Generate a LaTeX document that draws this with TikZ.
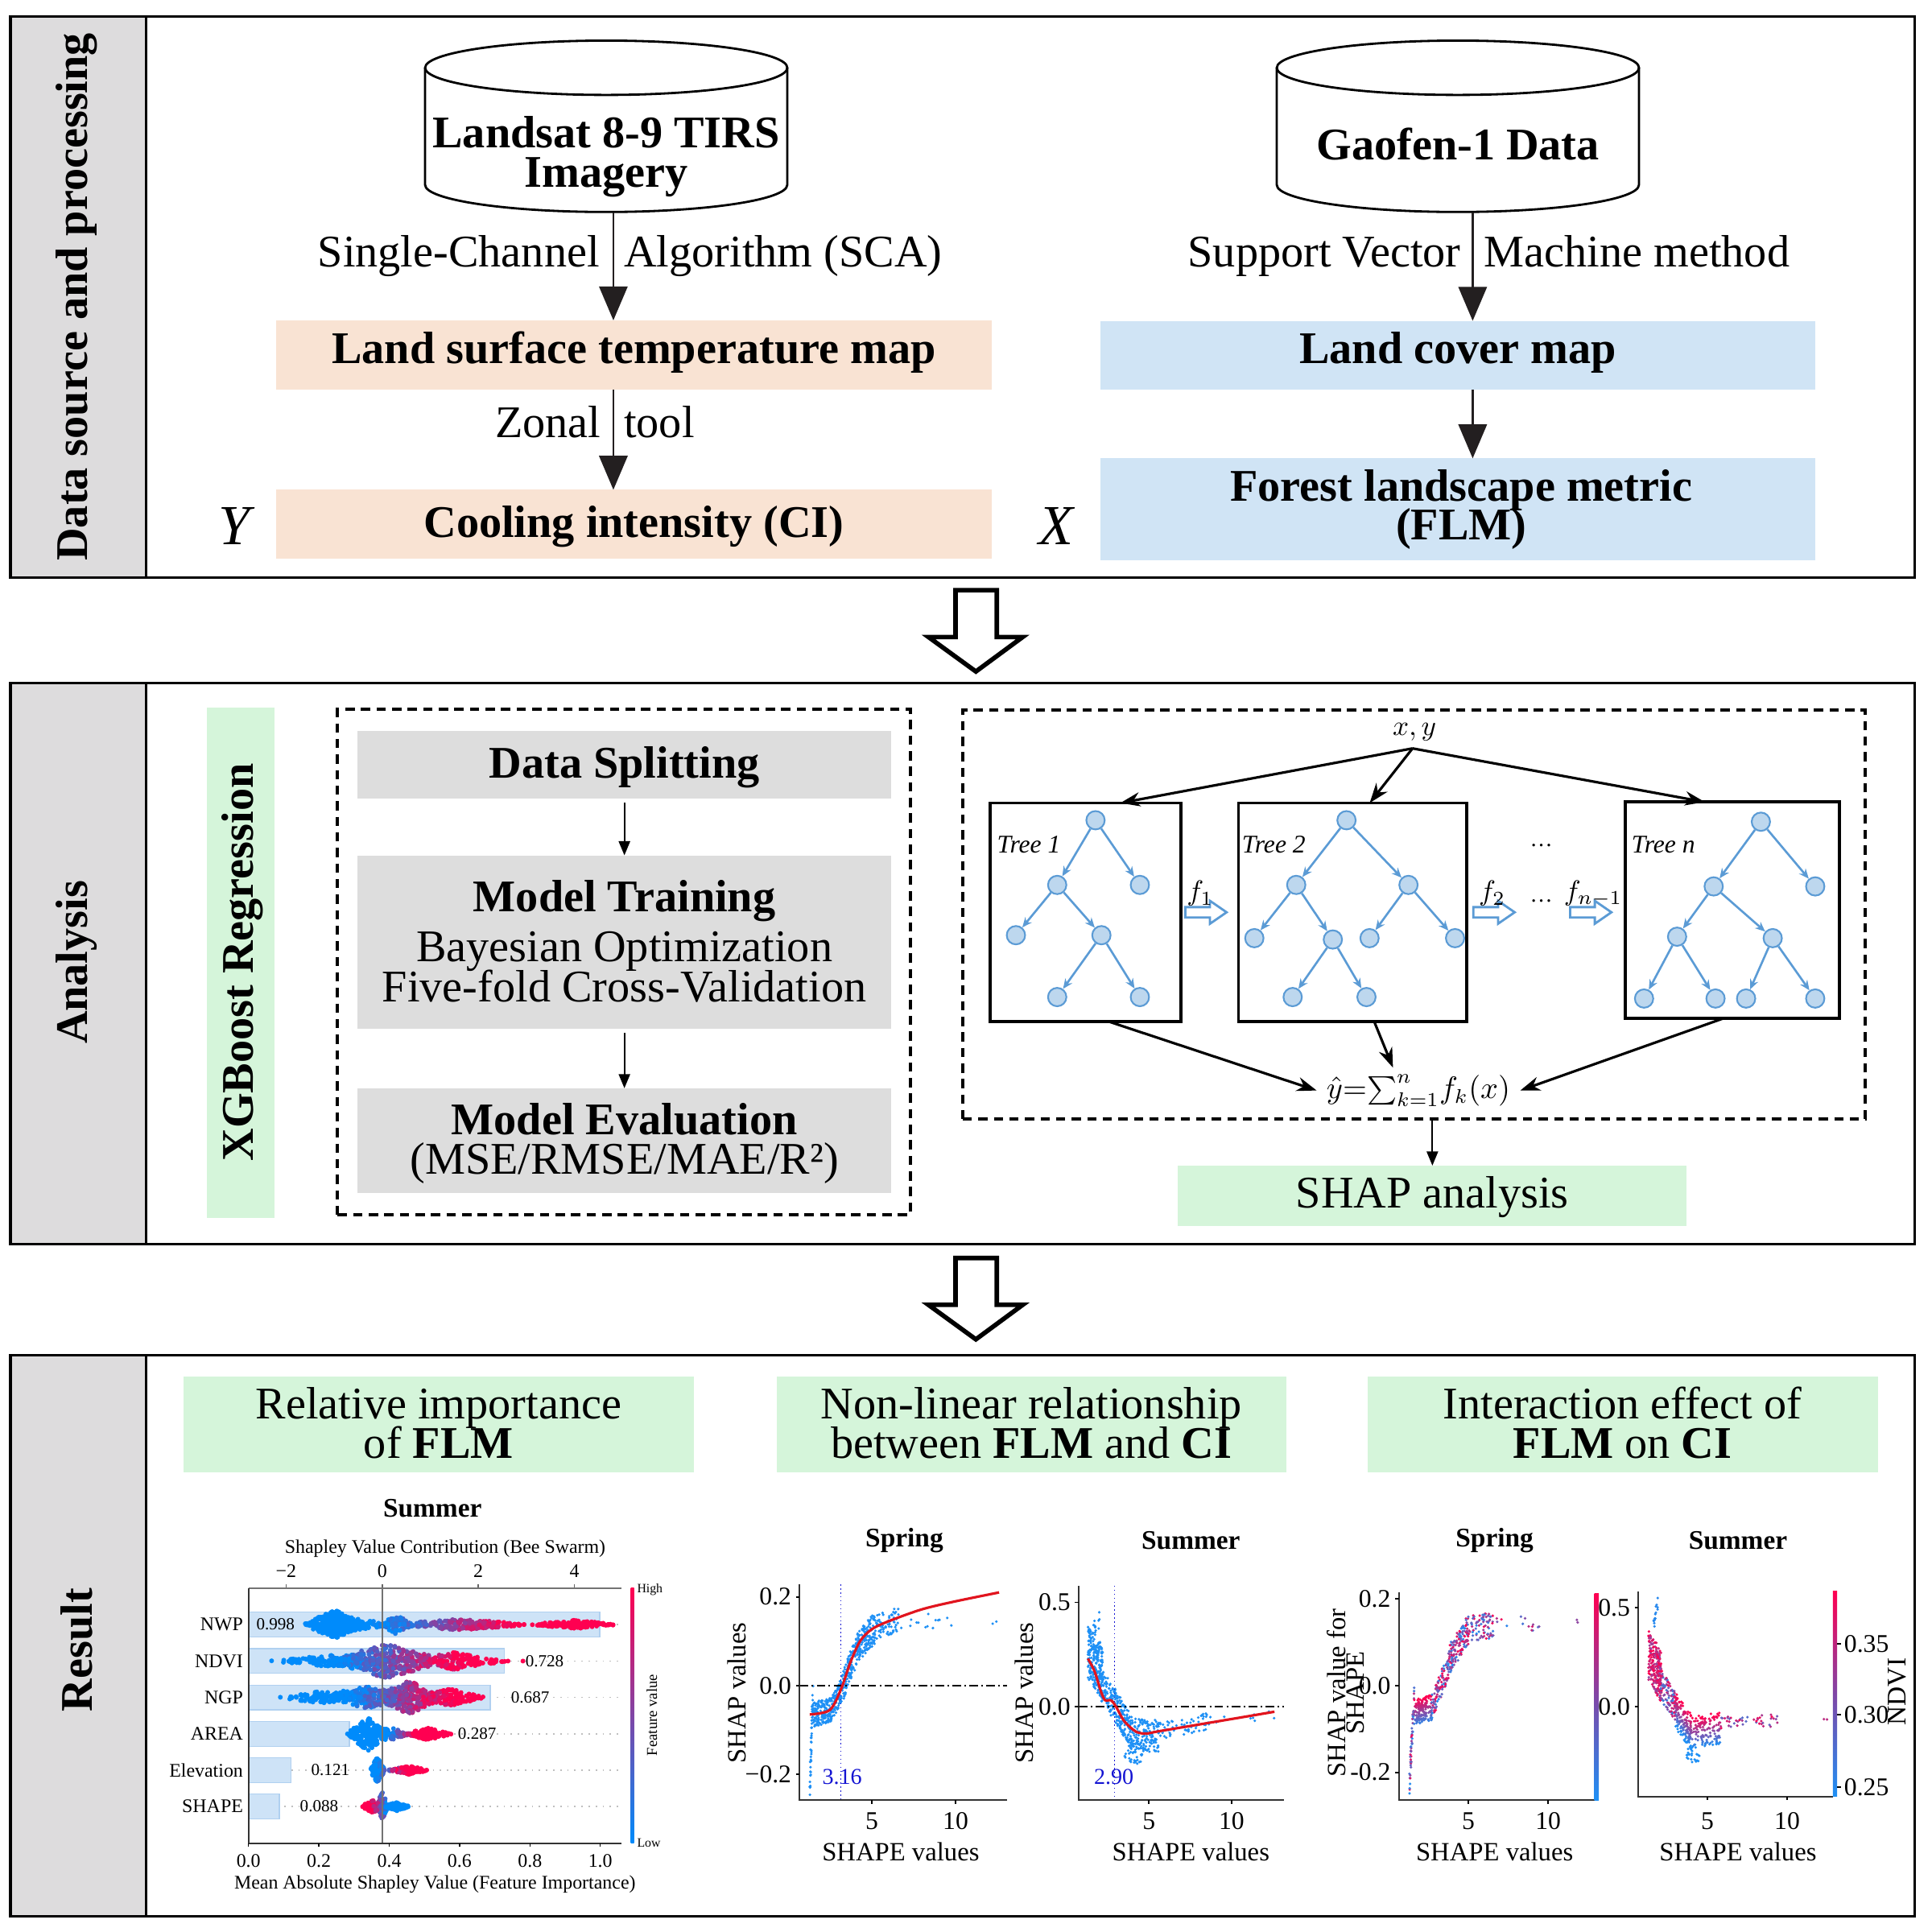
\documentclass[tikz,border=0pt]{standalone}
\usepackage{fontspec}
\setmainfont{Liberation Serif}
\usetikzlibrary{arrows.meta,fit}
\definecolor{peach}{RGB}{249,227,211}
\definecolor{lblue}{RGB}{208,228,245}
\definecolor{lgreen}{RGB}{213,245,218}
\definecolor{lgray}{RGB}{221,221,221}
\definecolor{colgray}{RGB}{221,220,221}
\definecolor{arrowblk}{RGB}{35,31,32}
\definecolor{treeblue}{RGB}{91,155,213}
\definecolor{treefill}{RGB}{189,215,238}
\definecolor{shapblue}{RGB}{0,139,251}
\definecolor{shapred}{RGB}{255,0,81}
\definecolor{shapmid}{RGB}{127,70,166}
\definecolor{dotblue}{RGB}{30,144,245}
\definecolor{barfill}{RGB}{206,227,247}
\definecolor{bardraw}{RGB}{176,208,240}
\definecolor{curvered}{RGB}{225,20,30}
\definecolor{numblue}{RGB}{20,20,210}
\newcommand\fsz[2]{\fontsize{#1}{#2}\selectfont}
% beeswarm cluster: cx, sx, half-height, n, rowY, colour expression
\newcommand\swarm[6]{%
  \foreach \k in {1,...,#4}{%
    \pgfmathsetmacro\uu{(rand+rand)/2}%
    \pgfmathsetmacro\tx{(#1)+(#2)*\uu}%
    \pgfmathsetmacro\ty{(#5)+(#3)*rand*(1-abs(\uu))}%
    \pgfmathtruncatemacro\pc{max(0,min(100,#6))}%
    \fill[shapred!\pc!shapblue] ({310.2+39*\tx},{\ty}) circle[radius=0.85pt];
  }%
}
% scatter segment: x0,y0,x1,y1,noise,n,colour expression
\newcommand\dseg[7]{%
  \foreach \k in {1,...,#6}{%
    \pgfmathsetmacro\tx{(#1)+((#3)-(#1))*rnd}%
    \pgfmathsetmacro\nz{rand}%
    \pgfmathsetmacro\ty{(#2)+((#4)-(#2))*(\tx-(#1))/((#3)-(#1))+(#5)*\nz}%
    \pgfmathtruncatemacro\pc{max(0,min(100,#7))}%
    \fill[shapred!\pc!dotblue] ({\ox+\sx*\tx},{\oy-\sy*(\ty)}) circle[radius=0.5pt];
  }%
}
\newcommand\harr[2]{%
  \draw[treeblue, line width=0.8pt, fill=white] (#1,#2-4.2) -- (#1+20,#2-4.2) -- (#1+20,#2-9.3) -- (#1+33.5,#2) -- (#1+20,#2+9.3) -- (#1+20,#2+4.2) -- (#1,#2+4.2) -- cycle;}
\newcommand\downarr[1]{%
  \draw[line width=1.6pt, fill=white, line join=miter] (775.5,#1) -- (809,#1) -- (809,#1+38) -- (830,#1+38) -- (792,#1+66) -- (753.5,#1+38) -- (775.5,#1+38) -- cycle;}
\begin{document}
\begin{tikzpicture}[x=0.0153061cm, y=-0.0153061cm,
  panel/.style={draw=black, line width=0.9pt},
  fb/.style={inner sep=0pt, outer sep=0pt},
  bigb/.style={font=\fsz{16}{18}\bfseries},
  bigr/.style={font=\fsz{16}{18}},
  flowarr/.style={draw=arrowblk, line width=0.8pt, -{Triangle[length=12pt,width=10pt]}},
  thinarr/.style={draw=black, line width=0.6pt, -{Triangle[length=5pt,width=4pt]}},
  blkarr/.style={draw=black, line width=0.9pt, -{Stealth[length=7pt,width=5pt]}},
  tnd/.style={circle, draw=treeblue, fill=treefill, line width=0.6pt, minimum size=6.5pt, inner sep=0pt},
  tedge/.style={draw=treeblue, line width=0.75pt, -{Stealth[length=3.5pt,width=3pt]}},
  dashbox/.style={draw=black, line width=1.1pt, dash pattern=on 3.3pt off 2.2pt},
  treebox/.style={draw=black, line width=1.1pt},
  ticklab/.style={font=\fsz{9}{10}},
  axlab/.style={font=\fsz{9.3}{10}},
  ptitle/.style={font=\fsz{9.5}{10}\bfseries},
  bs/.style={font=\fsz{6.8}{8}},
  axline/.style={line width=0.6pt, draw=black!80},
]
\useasboundingbox (0,0) rectangle (1568,1568);
\pgfmathsetseed{4}

%================ PANEL 1 =================
\fill[colgray] (8.5,13.5) rectangle (118.5,469);
\node[fit={(8.5,13.5) (1554,469)}, fb, panel] (p1) {};
\draw[panel] (118.5,13.5) -- (118.5,469);
\node[bigb, rotate=90] (l1) at (62,241) {Data source and processing};

% cylinders
\draw[line width=0.8pt, fill=white] (345,55) -- (345,150) arc[start angle=180, end angle=360, x radius=64pt, y radius=9.6pt] -- (639,55);
\draw[line width=0.8pt] (492,55) ellipse[x radius=64pt, y radius=9.6pt];
\node[bigb, anchor=base] (cy1a) at (492,120) {Landsat 8-9 TIRS};
\node[bigb, anchor=base] (cy1b) at (492,152) {Imagery};
\coordinate (c1) at (497.8,172.5);
\draw[line width=0.8pt, fill=white] (1036.2,55) -- (1036.2,150) arc[start angle=180, end angle=360, x radius=64pt, y radius=9.6pt] -- (1330.2,55);
\draw[line width=0.8pt] (1183.2,55) ellipse[x radius=64pt, y radius=9.6pt];
\node[bigb, anchor=base] (cy2a) at (1183.2,130) {Gaofen-1 Data};
\coordinate (c2) at (1195.2,172.5);

% boxes
\node[fit={(224,260) (804.7,316)}, fb, fill=peach] (lst) {};
\node[bigb, anchor=base] (lstt) at (514.4,295) {Land surface temperature map};
\node[fit={(224,397.5) (804.7,453.5)}, fb, fill=peach] (ci) {};
\node[bigb, anchor=base] (cit) at (514.4,436) {Cooling intensity (CI)};
\node[fit={(893.3,260.4) (1473.1,316.5)}, fb, fill=lblue] (lcm) {};
\node[bigb, anchor=base] (lcmt) at (1183.2,295) {Land cover map};
\node[fit={(893.3,372) (1473.1,454.5)}, fb, fill=lblue] (flm) {};
\node[bigb, anchor=base] (flma) at (1186,406.5) {Forest landscape metric};
\node[bigb, anchor=base] (flmb) at (1186,438) {(FLM)};
\node[font=\fsz{20}{22}\itshape, anchor=base] (yy) at (190,442) {Y};
\node[font=\fsz{20}{22}\itshape, anchor=base] (xx) at (857.4,442) {X};

% arrows
\draw[flowarr] (c1) -- (c1 |- lst.north);
\draw[flowarr] (c1 |- lst.south) -- (c1 |- ci.north);
\draw[flowarr] (c2) -- (c2 |- lcm.north);
\draw[flowarr] (c2 |- lcm.south) -- (c2 |- flm.north);
\node[bigr, anchor=base east, inner sep=0pt] (sca1) at (487,216.5) {Single-Channel};
\node[bigr, anchor=base west, inner sep=0pt] (sca2) at (506,216.5) {Algorithm (SCA)};
\node[bigr, anchor=base east, inner sep=0pt] (zt1) at (488,355) {Zonal};
\node[bigr, anchor=base west, inner sep=0pt] (zt2) at (506,355) {tool};
\node[bigr, anchor=base east, inner sep=0pt] (svm1) at (1186,216.5) {Support Vector};
\node[bigr, anchor=base west, inner sep=0pt] (svm2) at (1204,216.5) {Machine method};

\downarr{479}

%================ PANEL 2 =================
\fill[colgray] (8.5,554.5) rectangle (118.5,1009.7);
\node[fit={(8.5,554.5) (1554,1009.7)}, fb, panel] (p2) {};
\draw[panel] (118.5,554.5) -- (118.5,1009.7);
\node[bigb, rotate=90] (l2) at (62,781) {Analysis};

\node[fit={(168,574.3) (222.5,988.2)}, fb, fill=lgreen] (xgb) {};
\node[bigb, rotate=90] (xgbt) at (197,781) {XGBoost Regression};

\node[fit={(274,575.7) (739,985.8)}, fb, dashbox] (dl) {};
\node[fit={(290,593.2) (723.5,648.2)}, fb, fill=lgray] (ds) {};
\node[bigb, anchor=base] (dst) at (506.7,631.7) {Data Splitting};
\node[fit={(290,694.2) (723.5,834.7)}, fb, fill=lgray] (mt) {};
\node[bigb, anchor=base] (mta) at (506.7,739.7) {Model Training};
\node[bigr, anchor=base] (mtb) at (506.7,780.7) {Bayesian Optimization};
\node[bigr, anchor=base] (mtc) at (506.7,813.2) {Five-fold Cross-Validation};
\node[fit={(290,883.2) (723.5,968.3)}, fb, fill=lgray] (me) {};
\node[bigb, anchor=base] (mea) at (506.7,920.8) {Model Evaluation};
\node[bigr, anchor=base] (meb) at (506.7,953.2) {(MSE/RMSE/MAE/R²)};
\draw[thinarr] ([yshift=-1.5]ds.south) -- (mt.north);
\draw[thinarr] ([yshift=-1.5]mt.south) -- (me.north);

\node[fit={(781.3,576.3) (1513.9,908.4)}, fb, dashbox] (ens) {};
\node[font=\fsz{10}{12}] (xy) at (1148,594) {$x,y$};
\coordinate (xys) at (1146.4,607.4);
\node[fit={(803.8,651.7) (958.6,829)}, fb, treebox] (t1) {};
\node[fit={(1005.1,651.7) (1190.5,829)}, fb, treebox] (t2) {};
\node[fit={(1318.9,650.9) (1492.9,826.7)}, fb, treebox] (tn) {};
\node[font=\fsz{9}{10}\itshape] (t1l) at (835,685.5) {Tree 1};
\node[font=\fsz{9}{10}\itshape] (t2l) at (1033.8,685.5) {Tree 2};
\node[font=\fsz{9}{10}\itshape] (tnl) at (1350,685.5) {Tree n};
\draw[blkarr] (xys) -- ([xshift=12.2pt]t1.north);
\draw[blkarr] (xys) -- ([xshift=6pt]t2.north);
\draw[blkarr] (xys) -- ([xshift=-9.7pt]tn.north);

% tree 1
\node[tnd] (a0) at (889.1,665.7) {};
\node[tnd] (a1) at (858,718.2) {};
\node[tnd] (a2) at (925.1,718.2) {};
\node[tnd] (a3) at (824.5,759) {};
\node[tnd] (a4) at (893.9,759) {};
\node[tnd] (a5) at (858,809.2) {};
\node[tnd] (a6) at (925.1,809.2) {};
\foreach \p/\c in {a0/a1,a0/a2,a1/a3,a1/a4,a4/a5,a4/a6} \draw[tedge] (\p) -- (\c);
% tree 2
\node[tnd] (b0) at (1092.8,665.7) {};
\node[tnd] (b1) at (1052,718.2) {};
\node[tnd] (b2) at (1143.1,718.2) {};
\node[tnd] (b3) at (1018,761.4) {};
\node[tnd] (b4) at (1081.7,762.5) {};
\node[tnd] (b5) at (1111.5,761.4) {};
\node[tnd] (b6) at (1180.9,761.4) {};
\node[tnd] (b7) at (1049.1,809.2) {};
\node[tnd] (b8) at (1109,809.2) {};
\foreach \p/\c in {b0/b1,b0/b2,b1/b3,b1/b4,b2/b5,b2/b6,b4/b7,b4/b8} \draw[tedge] (\p) -- (\c);
% tree n
\node[tnd] (n0) at (1429.1,666.9) {};
\node[tnd] (n1) at (1390.8,719.4) {};
\node[tnd] (n2) at (1473.2,719.4) {};
\node[tnd] (n3) at (1361.1,760.2) {};
\node[tnd] (n4) at (1438.7,761.4) {};
\node[tnd] (n5) at (1334.3,810.4) {};
\node[tnd] (n6) at (1392.3,810.4) {};
\node[tnd] (n7) at (1417.1,810.4) {};
\node[tnd] (n8) at (1473.2,810.4) {};
\foreach \p/\c in {n0/n1,n0/n2,n1/n3,n1/n4,n3/n5,n3/n6,n4/n7,n4/n8} \draw[tedge] (\p) -- (\c);

% boosting arrows
\harr{962}{740.4}
\harr{1195.8}{740.4}
\harr{1274.3}{740.4}
\node[font=\fsz{10}{12}] (f1) at (974,725.2) {$f_1$};
\node[font=\fsz{10}{12}] (f2) at (1211,725.2) {$f_2$};
\node[font=\fsz{10}{12}] (fn) at (1293,725.2) {$f_{n-1}$};
\node[font=\fsz{8}{10}] (dd1) at (1250.9,686) {\dots};
\node[font=\fsz{8}{10}] (dd2) at (1250.9,731.5) {\dots};

\node[font=\fsz{10.5}{12}] (fml) at (1151.2,885) {$\hat{y}{=}{\textstyle\sum_{k=1}^{n}} f_k(x)$};
\draw[blkarr] ([xshift=8pt]t1.south) -- (fml.west);
\draw[blkarr] ([xshift=7.6pt]t2.south) -- ([xshift=-9pt,yshift=-1pt]fml.north);
\draw[blkarr] ([xshift=-3.4pt]tn.south) -- (fml.east);

\node[fit={(956,946) (1369,995)}, fb, fill=lgreen] (shap) {};
\node[bigr, anchor=base] (shapt) at (1162.5,980.5) {SHAP analysis};
\draw[thinarr] (shap.north |- ens.south) -- (shap.north);

\downarr{1021}

%================ PANEL 3 =================
\fill[colgray] (8.5,1099.7) rectangle (118.5,1555);
\node[fit={(8.5,1099.7) (1554,1555)}, fb, panel] (p3) {};
\draw[panel] (118.5,1099.7) -- (118.5,1555);
\node[bigb, rotate=90] (l3) at (62,1339) {Result};

\node[fit={(149,1117.3) (563,1194.8)}, fb, fill=lgreen] (h1) {};
\node[bigr, anchor=base] (h1a) at (356,1151.7) {Relative importance};
\node[bigr, anchor=base] (h1b) at (356,1183.3) {of \textbf{FLM}};
\node[fit={(630.3,1117.3) (1043.7,1194.8)}, fb, fill=lgreen] (h2) {};
\node[bigr, anchor=base] (h2a) at (837,1151.7) {Non-linear relationship};
\node[bigr, anchor=base] (h2b) at (837,1183.3) {between \textbf{FLM} and \textbf{CI}};
\node[fit={(1109.7,1117.3) (1524,1194.8)}, fb, fill=lgreen] (h3) {};
\node[bigr, anchor=base] (h3a) at (1316.8,1151.7) {Interaction effect of};
\node[bigr, anchor=base] (h3b) at (1316.8,1183.3) {\textbf{FLM} on \textbf{CI}};

%---------- beeswarm ----------
\node[ptitle] (bst) at (351,1224) {Summer};
\node[bs] (bstop) at (361.3,1257) {Shapley Value Contribution (Bee Swarm)};
\foreach \v/\l in {232.2/−2,310.2/0,388.2/2,466.2/4} {
  \draw[line width=0.4pt, black!60] (\v,1289) -- (\v,1286);
  \node[bs] at (\v,1275) {\l};
}
\foreach \r/\w in {1318.4/486.6,1348.1/409.5,1377.6/397.8,1407.3/283.6,1436.7/236.2,1466/226.8} {
  \draw[black!25, dotted, line width=0.5pt] (202,\r) -- (504,\r);
  \fill[barfill, draw=bardraw, line width=0.4pt] (202,\r-10) rectangle (\w,\r+10);
}
\swarm{-1.0}{0.65}{12}{230}{1318.4}{\tx*40+15*rand}
\swarm{-0.7}{0.95}{6}{130}{1318.4}{\tx*40+15*rand}
\swarm{0.3}{0.35}{8}{80}{1318.4}{\tx*40+15*rand}
\swarm{1.6}{1.6}{4.5}{240}{1318.4}{\tx*40+15*rand}
\swarm{4.0}{0.95}{3.5}{125}{1318.4}{\tx*40+15*rand}
\swarm{0.1}{1.3}{14}{360}{1348.1}{(\tx+0.8)*45+20*rand}
\swarm{-1.0}{1.4}{5}{130}{1348.1}{(\tx+0.8)*45+20*rand}
\swarm{1.5}{1.1}{7}{165}{1348.1}{(\tx+0.8)*45+20*rand}
\fill[shapred] (412.3,1348.1) circle[radius=0.85pt];
\fill[shapred] (424.4,1348.1) circle[radius=0.85pt];
\swarm{0.55}{0.75}{14}{220}{1377.6}{(\tx+0.7)*50+20*rand}
\swarm{-0.3}{1.2}{9}{210}{1377.6}{(\tx+0.7)*50+20*rand}
\swarm{-1.3}{0.9}{5}{80}{1377.6}{(\tx+0.7)*50+20*rand}
\swarm{1.4}{0.75}{7}{130}{1377.6}{(\tx+0.7)*50+20*rand}
\swarm{-0.3}{0.45}{14}{170}{1407.3}{(\tx-0.1)*170+15*rand}
\swarm{0.15}{0.45}{6}{80}{1407.3}{(\tx-0.1)*170+15*rand}
\swarm{0.95}{0.5}{5}{130}{1407.3}{(\tx-0.1)*170+15*rand}
\swarm{-0.1}{0.16}{11}{120}{1436.7}{(\tx+0.05)*220+30*rand}
\swarm{0.55}{0.45}{3.5}{130}{1436.7}{(\tx+0.05)*220+30*rand}
\swarm{0.0}{0.13}{12}{80}{1466}{(0.1-\tx)*330+20*rand}
\swarm{-0.2}{0.27}{5}{80}{1466}{(0.1-\tx)*330+20*rand}
\swarm{0.3}{0.28}{4}{80}{1466}{(0.1-\tx)*330+20*rand}
\draw[black!55, line width=0.6pt] (310.2,1289) -- (310.2,1496);
\draw[black!55, line width=0.6pt] (202,1289) -- (504.5,1289);
\draw[axline] (202,1289) -- (202,1496) -- (504.5,1496);
\foreach \v/\l in {201.7/0.0,258.8/0.2,315.9/0.4,373/0.6,430.1/0.8,487.2/1.0} {
  \draw[line width=0.4pt] (\v,1496) -- (\v,1499);
  \node[bs] at (\v,1510) {\l};
}
\foreach \r/\l in {1318.4/NWP,1348.1/NDVI,1377.6/NGP,1407.3/AREA,1436.7/Elevation,1466/SHAPE}
  \node[bs, anchor=east, inner sep=1pt] at (200,\r) {\l};
\node[font=\fsz{6}{7}] (v1) at (223.6,1318.4) {0.998};
\node[font=\fsz{6}{7}] (v2) at (442,1348.1) {0.728};
\node[font=\fsz{6}{7}] (v3) at (430.3,1377.6) {0.687};
\node[font=\fsz{6}{7}] (v4) at (387.2,1407.3) {0.287};
\node[font=\fsz{6}{7}] (v5) at (268.1,1436.7) {0.121};
\node[font=\fsz{6}{7}] (v6) at (259,1466) {0.088};
\shade[bottom color=shapblue, top color=shapred, middle color=shapmid] (512,1289) rectangle (514.5,1496);
\node[font=\fsz{4.5}{5}, anchor=west, inner sep=0.5pt] (hi) at (515.5,1290) {High};
\node[font=\fsz{4.5}{5}, anchor=west, inner sep=0.5pt] (lo) at (515.5,1496) {Low};
\node[font=\fsz{5.3}{6}, rotate=90] (fv) at (529,1392) {Feature value};
\node[bs] (bsbot) at (353,1529) {Mean Absolute Shapley Value (Feature Importance)};

%---------- dependence plot 1 (Spring) ----------
\def\ox{639.5}\def\sx{13.6}\def\oy{1368}\def\sy{360}
\dseg{1.3}{-0.22}{1.5}{-0.02}{0.04}{45}{0}
\dseg{1.5}{-0.065}{2.6}{-0.055}{0.028}{160}{0}
\dseg{2.6}{-0.055}{3.3}{0.0}{0.028}{90}{0}
\dseg{3.3}{0.0}{4.2}{0.09}{0.035}{130}{0}
\dseg{4.2}{0.09}{5.2}{0.13}{0.035}{130}{0}
\dseg{5.2}{0.13}{6.6}{0.15}{0.028}{70}{0}
\dseg{6.6}{0.15}{9.8}{0.14}{0.02}{14}{0}
\dseg{12.2}{0.14}{12.7}{0.155}{0.005}{2}{0}
\begin{scope}[shift={(639.5,1368)}, xscale=13.6, yscale=-360]
  \draw[numblue, densely dotted, line width=0.4pt] (3.16,0.228) -- (3.16,-0.258);
  \draw[dash pattern=on 3pt off 1.2pt on 0.6pt off 1.2pt, line width=0.5pt] (0.7,0) -- (13.05,0);
  \draw[curvered, line width=0.9pt] plot[smooth] coordinates {(1.3,-0.065) (2.5,-0.055) (3.2,-0.005) (3.7,0.05) (4.3,0.1) (5,0.127) (6,0.145) (8,0.172) (10,0.19) (12.6,0.21)};
\end{scope}
\draw[axline] (649,1286) -- (649,1461) -- (817,1461);
\foreach \v/\l in {1296/0.2,1368/0.0,1440/−0.2} {
  \draw[line width=0.5pt] (646,\v) -- (649,\v);
  \node[ticklab, anchor=east, inner sep=1pt] at (645,\v) {\l};
}
\foreach \v/\l in {707.5/5,775.5/10} {
  \draw[line width=0.5pt] (\v,1461) -- (\v,1464);
  \node[ticklab] at (\v,1478) {\l};
}
\node[font=\fsz{8}{9}, text=numblue] (th1) at (683.5,1442) {3.16};
\node[axlab] (xl1) at (731,1503) {SHAPE values};
\node[axlab, rotate=90] (yl1) at (598,1374) {SHAP values};
\node[ptitle] (pt1) at (734,1250) {Spring};

%---------- dependence plot 2 (Summer) ----------
\def\ox{865.5}\def\sx{13.4}\def\oy{1385}\def\sy{169}
\dseg{1.3}{0.26}{2.2}{0.16}{0.13}{220}{0}
\dseg{1.6}{0.36}{2.0}{0.42}{0.04}{12}{0}
\dseg{2.0}{0.12}{3.0}{0.0}{0.08}{110}{0}
\dseg{3.0}{0.0}{3.9}{-0.12}{0.08}{130}{0}
\dseg{3.9}{-0.13}{5.6}{-0.14}{0.08}{160}{0}
\dseg{3.5}{-0.22}{4.6}{-0.24}{0.04}{30}{0}
\dseg{5.6}{-0.12}{8.6}{-0.07}{0.04}{60}{0}
\dseg{8.6}{-0.07}{12.7}{-0.04}{0.02}{10}{0}
\begin{scope}[shift={(865.5,1385)}, xscale=13.4, yscale=-169]
  \draw[numblue, densely dotted, line width=0.4pt] (2.9,0.58) -- (2.9,-0.45);
  \draw[dash pattern=on 3pt off 1.2pt on 0.6pt off 1.2pt, line width=0.5pt] (0.75,0) -- (13.17,0);
  \draw[curvered, line width=0.9pt] plot[smooth] coordinates {(1.3,0.23) (1.7,0.17) (2.1,0.07) (2.35,0.03) (2.7,0.03) (3.0,0.0) (3.5,-0.07) (4.2,-0.12) (4.8,-0.13) (5.5,-0.12) (7,-0.1) (10,-0.06) (12.6,-0.025)};
\end{scope}
\draw[axline] (875.5,1287) -- (875.5,1461) -- (1042,1461);
\foreach \v/\l in {1300.5/0.5,1385/0.0} {
  \draw[line width=0.5pt] (872.5,\v) -- (875.5,\v);
  \node[ticklab, anchor=east, inner sep=1pt] at (871.5,\v) {\l};
}
\foreach \v/\l in {932.5/5,999.5/10} {
  \draw[line width=0.5pt] (\v,1461) -- (\v,1464);
  \node[ticklab] at (\v,1478) {\l};
}
\node[font=\fsz{8}{9}, text=numblue] (th2) at (904,1442) {2.90};
\node[axlab] (xl2) at (966.5,1503) {SHAPE values};
\node[axlab, rotate=90] (yl2) at (831,1374) {SHAP values};
\node[ptitle] (pt2) at (966.5,1250) {Summer};

%---------- interaction plot 1 (Spring) ----------
\def\ox{1127}\def\sx{12.94}\def\oy{1368}\def\sy{352}
\dseg{1.3}{-0.23}{1.6}{-0.03}{0.03}{50}{50+50*rand}
\dseg{1.6}{-0.06}{2.7}{-0.05}{0.03}{150}{60+50*\nz}
\dseg{2.7}{-0.05}{3.8}{0.05}{0.03}{100}{50+50*rand}
\dseg{3.8}{0.06}{5}{0.13}{0.035}{140}{50+50*rand}
\dseg{5}{0.13}{6.6}{0.14}{0.03}{80}{50+50*rand}
\dseg{6.6}{0.15}{9.5}{0.14}{0.015}{14}{50+50*rand}
\dseg{11.5}{0.145}{12.6}{0.16}{0.005}{2}{50}
\draw[axline] (1135.3,1292) -- (1135.3,1461) -- (1294,1461);
\shade[bottom color=dotblue, top color=shapred, middle color=shapmid] (1294,1293) rectangle (1297.6,1461);
\foreach \v/\l in {1297.6/0.2,1368/0.0,1438.4/-0.2} {
  \draw[line width=0.5pt] (1132.3,\v) -- (1135.3,\v);
  \node[ticklab, anchor=east, inner sep=1pt] at (1131.3,\v) {\l};
}
\foreach \v/\l in {1191.7/5,1256.4/10} {
  \draw[line width=0.5pt] (\v,1461) -- (\v,1464);
  \node[ticklab] at (\v,1478) {\l};
}
\node[axlab] (xl3) at (1213,1503) {SHAPE values};
\node[axlab, rotate=90, align=center, font=\fsz{9.3}{6.5}] (yl3) at (1092,1374) {SHAP value for\\SHAPE};
\node[ptitle] (pt3) at (1213,1250) {Spring};

%---------- interaction plot 2 (Summer) ----------
\def\ox{1321}\def\sx{12.94}\def\oy{1385}\def\sy{161}
\dseg{1.3}{0.26}{2.1}{0.15}{0.13}{220}{80+30*rand}
\dseg{1.6}{0.4}{1.9}{0.52}{0.04}{14}{5}
\dseg{2.0}{0.12}{3.0}{0.0}{0.08}{110}{55+45*rand}
\dseg{3.0}{-0.02}{4.0}{-0.13}{0.09}{150}{50+60*\nz}
\dseg{4.0}{-0.13}{5.8}{-0.11}{0.08}{130}{55+55*\nz}
\dseg{3.7}{-0.24}{4.5}{-0.27}{0.03}{20}{0}
\dseg{5.8}{-0.08}{9.5}{-0.07}{0.03}{45}{60+40*rand}
\dseg{12.1}{-0.06}{12.7}{-0.07}{0.005}{2}{70}
\draw[axline] (1329.7,1291.5) -- (1329.7,1458) -- (1487.6,1458);
\shade[bottom color=dotblue, top color=shapred, middle color=shapmid] (1487.6,1291.5) rectangle (1491,1458);
\foreach \v/\l in {1304.5/0.5,1385/0.0} {
  \draw[line width=0.5pt] (1326.7,\v) -- (1329.7,\v);
  \node[ticklab, anchor=east, inner sep=1pt] at (1325.7,\v) {\l};
}
\foreach \v/\l in {1385.7/5,1450.4/10} {
  \draw[line width=0.5pt] (\v,1458) -- (\v,1461);
  \node[ticklab] at (\v,1478) {\l};
}
\foreach \v/\l in {1334/0.35,1391.6/0.30,1450.4/0.25} {
  \draw[line width=0.5pt] (1491,\v) -- (1494,\v);
  \node[ticklab, anchor=west, inner sep=1pt] at (1494,\v) {\l};
}
\node[font=\fsz{9.5}{10}, rotate=90] (ndvi) at (1540,1373) {NDVI};
\node[axlab] (xl4) at (1410.5,1503) {SHAPE values};
\node[ptitle] (pt4) at (1410.5,1250) {Summer};
\end{tikzpicture}
\end{document}
